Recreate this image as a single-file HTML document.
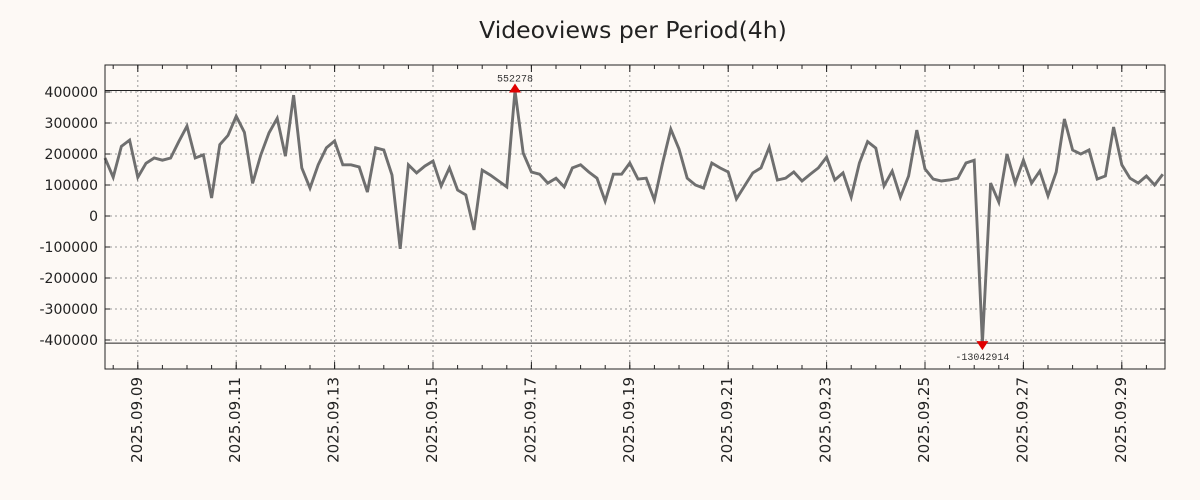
<!DOCTYPE html>
<html><head><meta charset="utf-8">
<style>
html,body{margin:0;padding:0;background:#fdf9f5;}
svg{display:block;font-family:"DejaVu Sans","Liberation Sans",sans-serif;}
</style></head>
<body>
<svg id="chart" width="1200" height="500" viewBox="0 0 1200 500" xmlns="http://www.w3.org/2000/svg">
<rect x="0" y="0" width="1200" height="500" fill="#fdf9f5"/>
<text x="633" y="38" text-anchor="middle" font-size="23.5" fill="#222">Videoviews per Period(4h)</text>
<g id="grid"></g>
<g id="plot"></g>
<g id="axes"></g>
</svg>
<script>
const startDay = 8;           // 2025-09-08 08:00, 4h periods
const startHourIdx = 2;       // 08:00 = 2 periods into day
const values = [187000,125000,225000,245000,125000,170000,187000,180000,187000,240000,
290000,187000,197000,58000,230000,260000,322000,270000,105000,197000,
268000,315000,193000,390000,155000,90000,165000,220000,242000,165000,
165000,158000,77000,220000,213000,132000,-106000,165000,139000,161000,
177000,97000,155000,84000,68000,-45000,148000,132000,113000,94000,
552278,203000,142000,135000,106000,122000,94000,155000,165000,142000,
122000,48000,135000,135000,171000,119000,122000,52000,171000,280000,
216000,122000,100000,90000,171000,155000,142000,55000,97000,139000,
155000,222000,116000,122000,142000,113000,135000,155000,190000,116000,
139000,61000,171000,240000,219000,97000,145000,61000,129000,277000,
152000,119000,113000,116000,122000,171000,180000,-13042914,106000,45000,
200000,106000,180000,106000,145000,65000,142000,313000,213000,200000,
213000,119000,129000,287000,165000,122000,106000,129000,100000,135000];
const yTicks = [400000,300000,200000,100000,0,-100000,-200000,-300000,-400000];
const xTickLabels = ["2025.09.09","2025.09.11","2025.09.13","2025.09.15","2025.09.17","2025.09.19","2025.09.21","2025.09.23","2025.09.25","2025.09.27","2025.09.29"];
const clipTop = 405000, clipBottom = -410000;

const NS="http://www.w3.org/2000/svg";
const L=105,R=1165,T=65,B=369;
const step=8.2;
const xs=i=>L+i*step;
const ys=v=>216-v*0.00031;
function mk(tag,attrs,parent){const e=document.createElementNS(NS,tag);for(const k in attrs)e.setAttribute(k,attrs[k]);parent.appendChild(e);return e;}
const grid=document.getElementById('grid'),plot=document.getElementById('plot'),axes=document.getElementById('axes');

yTicks.forEach(v=>{
  const y=ys(v);
  const g=mk('line',{x1:L,x2:R,y1:y,y2:y,stroke:'#999','stroke-dasharray':'2,3','stroke-width':1},grid);
  
  
  mk('line',{x1:L,x2:L+5,y1:y,y2:y,stroke:'#222'},axes);
  mk('line',{x1:R-5,x2:R,y1:y,y2:y,stroke:'#222'},axes);
  const t=mk('text',{x:L-7,y:y+5,'text-anchor':'end','font-size':14,fill:'#222'},axes);
  t.textContent=v;
  
  
});
const dayIdx=d=>(d-startDay)*6-startHourIdx;
for(let h=0;h<=60;h++){
  const i=dayIdx(startDay)+h*3; const x=xs(i);
  if(x<L||x>R) continue;
  mk('line',{x1:x,x2:x,y1:B,y2:B-4,stroke:'#222'},axes);
  mk('line',{x1:x,x2:x,y1:T,y2:T+4,stroke:'#222'},axes);
}
xTickLabels.forEach((lab,k)=>{
  const d=9+2*k; const x=xs(dayIdx(d));
  const g=mk('line',{x1:x,x2:x,y1:T,y2:B,stroke:'#999','stroke-dasharray':'2,3','stroke-width':1},grid);
  
  
  mk('line',{x1:x,x2:x,y1:B,y2:B-7,stroke:'#222'},axes);
  mk('line',{x1:x,x2:x,y1:T,y2:T+7,stroke:'#222'},axes);
  const t=mk('text',{x:0,y:0,'text-anchor':'end','font-size':15,fill:'#222',transform:`translate(${x+4},${B+8}) rotate(-90)`},axes);
  t.textContent=lab;
  
  
});
[clipTop,clipBottom].forEach(v=>{
  const l=mk('line',{x1:L,x2:R,y1:ys(v),y2:ys(v),stroke:'#222','stroke-width':1},plot);
  
  
});
const clamp=v=>Math.max(clipBottom,Math.min(clipTop,v));
const pts=values.map((v,i)=>xs(i).toFixed(1)+','+ys(clamp(v)).toFixed(1)).join(' ');
const line=mk('polyline',{points:pts,fill:'none',stroke:'#6f6f6f','stroke-width':2.9,'stroke-linejoin':'miter'},plot);


let mi=0,ni=0;values.forEach((v,i)=>{if(v>values[mi])mi=i;if(v<values[ni])ni=i;});
{const x=xs(mi),y=ys(clamp(values[mi]));
 const p=mk('polygon',{points:`${x-6},${y+2} ${x+6},${y+2} ${x},${y-7}`,fill:'#e00000'},plot);
 
 
 const t=mk('text',{x:x,y:y-9,'text-anchor':'middle','font-size':10,fill:'#333','font-family':'Liberation Mono, monospace'},plot);
 t.textContent=values[mi];
 
 }
{const x=xs(ni),y=ys(clamp(values[ni]));
 const p=mk('polygon',{points:`${x-6},${y-2} ${x+6},${y-2} ${x},${y+7}`,fill:'#e00000'},plot);
 
 
 const t=mk('text',{x:x,y:y+17,'text-anchor':'middle','font-size':10,fill:'#333','font-family':'Liberation Mono, monospace'},plot);
 t.textContent=values[ni];
 
 }
const fr=mk('rect',{x:L,y:T,width:R-L,height:B-T,fill:'none',stroke:'#222','stroke-width':1},axes);


</script>
</body></html>
